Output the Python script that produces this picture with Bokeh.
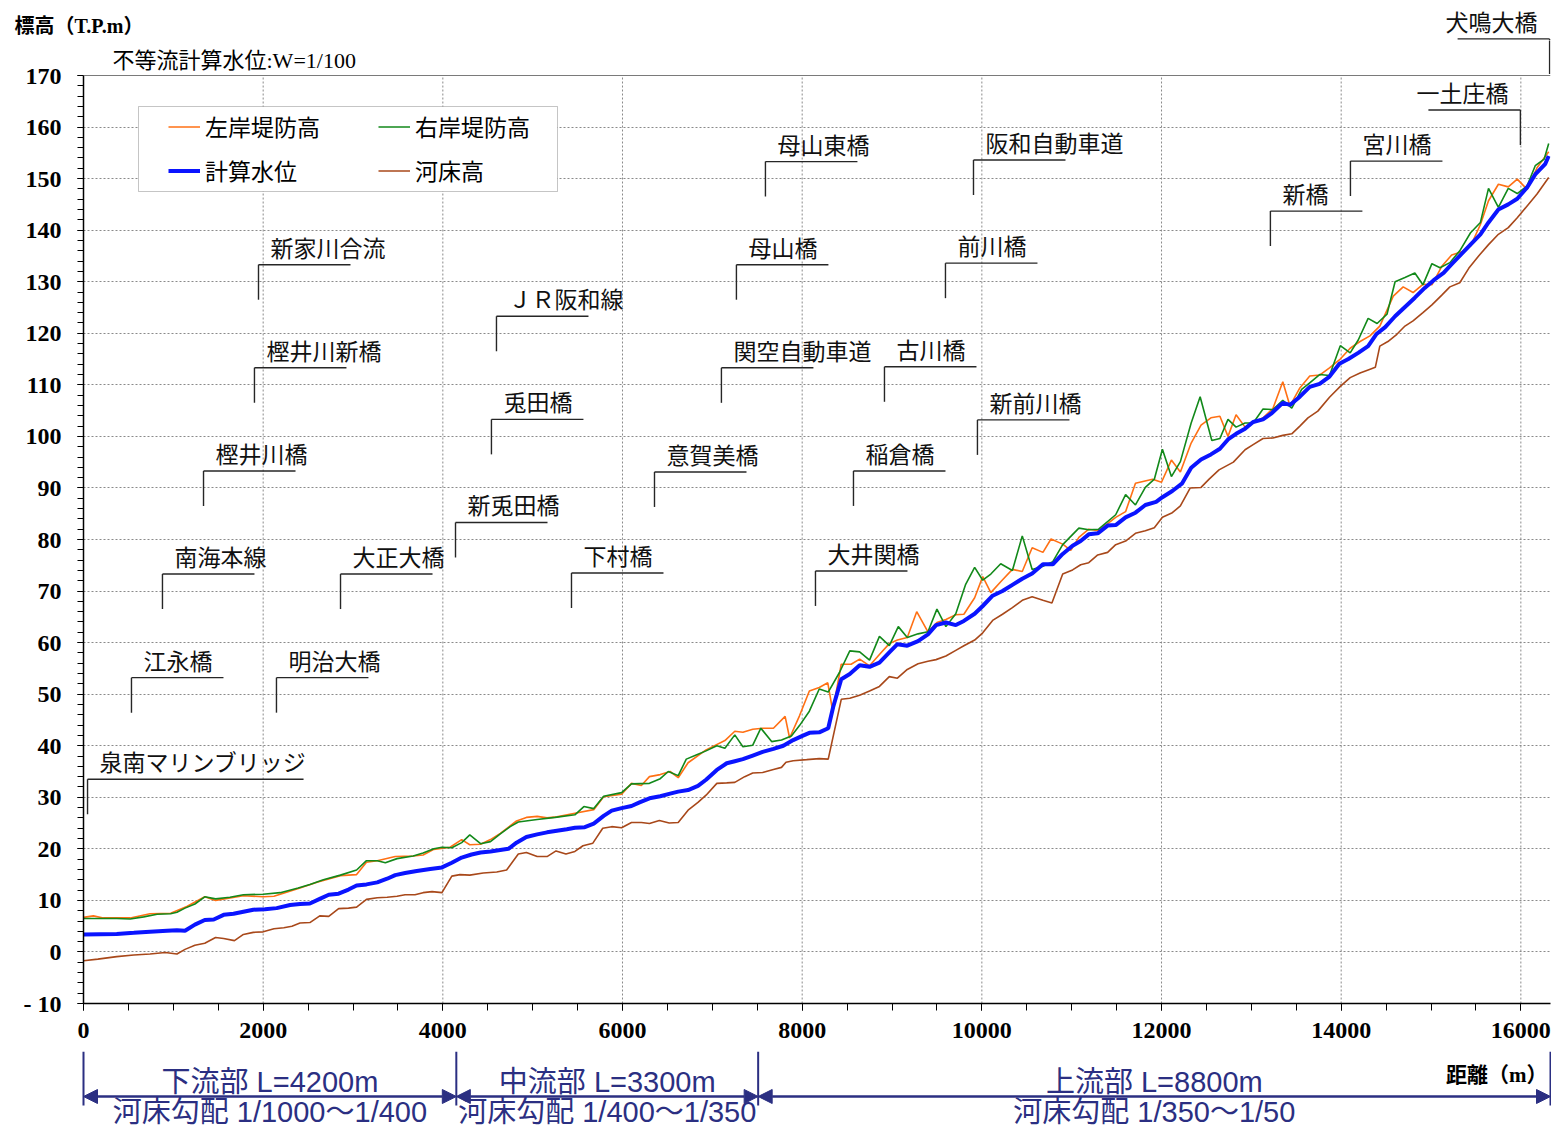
from bokeh.plotting import figure
from bokeh.models import (Range1d, FixedTicker, Legend, LegendItem, BoxAnnotation,
                          Arrow, NormalHead, ColumnDataSource, Span)
from bokeh.layouts import column
from bokeh.core.properties import value
from bokeh.embed import file_html
from bokeh.resources import INLINE

# ------------------------------------------------------------------ data
bed_dist = [0, 160, 370, 560, 740, 910, 1040, 1130, 1240, 1350,
            1470, 1560, 1680, 1780, 1890, 2000, 2120, 2230, 2320, 2410,
            2520, 2630, 2730, 2840, 2950, 3040, 3150, 3270, 3380, 3490,
            3580, 3690, 3780, 3880, 3990, 4100, 4190, 4300, 4450, 4600,
            4710, 4840, 4930, 5050, 5160, 5260, 5370, 5470, 5560, 5670,
            5780, 5880, 5990, 6100, 6210, 6300, 6410, 6520, 6620, 6730,
            6840, 6930, 7050, 7160, 7250, 7360, 7450, 7560, 7680, 7770,
            7820, 7900, 8050, 8190, 8290, 8435, 8530, 8640, 8750, 8860,
            8970, 9060, 9170, 9290, 9400, 9490, 9600, 9710, 9800, 9920,
            10010, 10120, 10230, 10340, 10450, 10560, 10680, 10780, 10900, 11010,
            11100, 11190, 11290, 11400, 11490, 11600, 11710, 11820, 11920, 12010,
            12120, 12210, 12320, 12440, 12530, 12640, 12800, 12930, 13020, 13130,
            13240, 13350, 13450, 13540, 13630, 13740, 13870, 13990, 14100, 14210,
            14300, 14380, 14430, 14520, 14620, 14710, 14800, 14910, 15010, 15120,
            15210, 15320, 15420, 15530, 15640, 15750, 15860, 15960, 16070, 16180,
            16310]
bed_elev = [-1.7, -1.4, -0.9, -0.6, -0.4, -0.1, -0.4, 0.5, 1.3, 1.7,
            2.8, 2.6, 2.2, 3.4, 3.8, 3.9, 4.5, 4.7, 5.0, 5.6,
            5.7, 7.0, 6.9, 8.4, 8.5, 8.7, 10.2, 10.5, 10.6, 10.8,
            11.1, 11.1, 11.5, 11.7, 11.5, 14.7, 15.0, 14.9, 15.3, 15.5,
            15.9, 19.0, 19.3, 18.5, 18.5, 19.6, 19.0, 19.5, 20.6, 21.1,
            24.0, 24.3, 24.1, 25.1, 25.1, 24.9, 25.5, 25.0, 25.1, 27.5,
            29.0, 30.4, 32.7, 32.8, 32.9, 34.0, 34.7, 34.8, 35.4, 35.8,
            36.8, 37.1, 37.3, 37.5, 37.4, 49.0, 49.2, 49.8, 50.6, 51.5,
            53.4, 53.1, 54.8, 55.9, 56.4, 56.7, 57.4, 58.5, 59.4, 60.5,
            61.9, 64.3, 65.5, 66.8, 68.2, 68.9, 68.2, 67.7, 73.3, 74.1,
            75.1, 75.5, 77.0, 77.5, 79.0, 79.7, 81.2, 81.7, 82.3, 84.3,
            85.2, 86.5, 90.0, 90.1, 91.7, 93.5, 95.0, 97.4, 98.4, 99.6,
            99.7, 100.2, 100.5, 102.0, 103.6, 104.9, 107.6, 109.7, 111.4, 112.3,
            112.9, 113.4, 117.5, 118.4, 119.8, 121.4, 122.4, 124.0, 125.5, 127.4,
            129.0, 129.8, 132.6, 135.0, 137.2, 139.2, 140.5, 142.4, 144.7, 147.0,
            150.2]

wl_dist = [0, 370, 560, 740, 930, 1040, 1130, 1240, 1350, 1450,
           1560, 1670, 1780, 1890, 2020, 2150, 2300, 2410, 2520, 2630,
           2730, 2840, 2950, 3040, 3150, 3270, 3380, 3470, 3580, 3710,
           3860, 3990, 4100, 4210, 4320, 4420, 4530, 4730, 4820, 4930,
           5050, 5160, 5270, 5380, 5470, 5580, 5680, 5790, 5880, 5990,
           6100, 6190, 6300, 6420, 6530, 6620, 6730, 6840, 6930, 7050,
           7160, 7250, 7340, 7450, 7560, 7680, 7790, 7900, 7990, 8080,
           8190, 8290, 8345, 8435, 8530, 8640, 8750, 8860, 8970, 9060,
           9170, 9290, 9400, 9490, 9600, 9710, 9800, 9920, 10010, 10120,
           10230, 10340, 10450, 10560, 10680, 10790, 10900, 11010, 11100, 11190,
           11290, 11400, 11490, 11600, 11710, 11820, 11940, 12010, 12120, 12230,
           12330, 12440, 12550, 12650, 12740, 12830, 12930, 13020, 13130, 13220,
           13350, 13430, 13540, 13650, 13760, 13870, 13980, 14080, 14190, 14300,
           14390, 14490, 14600, 14710, 14820, 14930, 15030, 15140, 15230, 15340,
           15450, 15550, 15640, 15750, 15860, 15960, 16070, 16160, 16270, 16310]
wl_elev = [3.4, 3.5, 3.7, 3.9, 4.1, 4.2, 4.1, 5.3, 6.2, 6.3,
           7.2, 7.4, 7.8, 8.2, 8.3, 8.5, 9.1, 9.3, 9.4, 10.3,
           11.1, 11.3, 12.1, 12.9, 13.1, 13.5, 14.2, 14.9, 15.3, 15.7,
           16.1, 16.4, 17.3, 18.3, 18.9, 19.3, 19.5, 20.0, 21.2, 22.3,
           22.8, 23.2, 23.5, 23.8, 24.1, 24.2, 24.9, 26.4, 27.4, 27.9,
           28.3, 29.0, 29.8, 30.2, 30.7, 31.1, 31.4, 32.2, 33.4, 35.3,
           36.6, 37.0, 37.4, 38.1, 38.8, 39.4, 40.0, 41.1, 41.8, 42.5,
           42.6, 43.4, 47.5, 52.9, 53.9, 55.6, 55.3, 56.1, 58.1, 59.7,
           59.4, 60.3, 61.6, 63.4, 63.9, 63.4, 64.2, 65.6, 67.1, 69.1,
           70.0, 71.2, 72.4, 73.4, 75.2, 75.2, 77.2, 78.8, 79.7, 81.0,
           81.2, 82.7, 82.8, 84.3, 85.2, 86.7, 87.3, 88.2, 89.4, 90.9,
           93.9, 95.5, 96.5, 97.6, 99.4, 100.5, 101.5, 102.8, 103.3, 104.4,
           106.5, 106.1, 107.7, 109.6, 110.2, 111.6, 114.1, 115.0, 116.2, 117.5,
           119.8, 121.2, 123.3, 125.1, 126.9, 128.8, 130.3, 131.7, 133.4, 135.4,
           137.4, 139.2, 141.5, 144.0, 145.0, 146.1, 148.3, 150.8, 152.8, 154.4]

right_dist = [0, 190, 370, 520, 670, 820, 970, 1040, 1130, 1240,
              1350, 1470, 1630, 1780, 2000, 2190, 2390, 2520, 2670, 2860,
              3040, 3150, 3270, 3360, 3490, 3670, 3780, 3900, 3990, 4100,
              4210, 4300, 4420, 4530, 4640, 4750, 4840, 5050, 5250, 5470,
              5570, 5680, 5790, 5990, 6100, 6300, 6420, 6510, 6620, 6710,
              6820, 6930, 7050, 7140, 7250, 7340, 7450, 7540, 7660, 7770,
              7880, 7970, 8080, 8190, 8290, 8415, 8530, 8640, 8750, 8860,
              8970, 9070, 9170, 9290, 9400, 9500, 9600, 9710, 9820, 9920,
              10010, 10100, 10210, 10340, 10450, 10560, 10680, 10790, 10900, 11080,
              11190, 11300, 11490, 11600, 11710, 11820, 11920, 12010, 12110, 12210,
              12330, 12430, 12560, 12650, 12740, 12830, 12930, 13020, 13130, 13240,
              13350, 13450, 13560, 13650, 13760, 13870, 13990, 14100, 14190, 14300,
              14400, 14510, 14600, 14710, 14820, 14910, 15010, 15100, 15210, 15320,
              15440, 15550, 15640, 15750, 15860, 15960, 16070, 16160, 16260, 16310]
right_elev = [6.5, 6.5, 6.5, 6.4, 6.8, 7.3, 7.4, 7.7, 8.5, 9.3,
              10.7, 10.3, 10.6, 11.1, 11.2, 11.5, 12.4, 13.1, 14.0, 14.9,
              15.9, 17.7, 17.7, 17.3, 18.1, 18.6, 19.2, 20.0, 20.3, 20.2,
              21.2, 22.7, 21.0, 21.4, 22.9, 24.3, 25.2, 25.7, 26.1, 26.6,
              28.2, 27.8, 30.2, 30.9, 32.6, 32.7, 33.6, 35.0, 34.2, 37.4,
              38.2, 39.0, 40.0, 39.5, 42.1, 39.8, 40.1, 43.4, 40.8, 41.1,
              41.9, 43.9, 46.7, 51.0, 50.4, 54.2, 58.4, 58.2, 56.6, 61.2,
              59.4, 63.1, 61.0, 61.7, 62.1, 66.5, 63.1, 65.6, 71.3, 74.6,
              72.1, 73.3, 75.3, 74.0, 80.7, 74.2, 74.8, 75.7, 79.0, 82.2,
              81.9, 82.0, 84.8, 88.7, 86.7, 90.1, 91.7, 97.5, 92.2, 95.1,
              102.6, 107.7, 99.2, 99.6, 103.3, 101.8, 102.6, 102.6, 105.3, 105.2,
              107.0, 105.5, 109.1, 110.4, 112.0, 111.8, 117.6, 116.2, 118.7, 122.9,
              121.9, 123.7, 130.0, 130.8, 131.7, 129.4, 133.5, 132.7, 133.7, 136.0,
              139.5, 141.5, 148.1, 144.4, 148.1, 147.1, 148.6, 152.5, 153.8, 156.8]

left_dist = [0, 110, 220, 370, 520, 740, 970, 1150, 1350, 1470,
             1780, 2000, 2120, 2410, 2600, 2860, 3040, 3150, 3270, 3470,
             3670, 3780, 3900, 4080, 4210, 4300, 4420, 4530, 4640, 4820,
             4930, 5050, 5160, 5270, 5470, 5680, 5790, 5990, 6100, 6210,
             6300, 6420, 6530, 6620, 6730, 6930, 7140, 7250, 7340, 7450,
             7560, 7680, 7810, 7860, 7970, 8080, 8190, 8285, 8340, 8435,
             8545, 8640, 8750, 8860, 8970, 9060, 9170, 9275, 9400, 9500,
             9600, 9710, 9800, 9920, 10010, 10100, 10210, 10340, 10450, 10560,
             10680, 10770, 10900, 10990, 11080, 11190, 11300, 11490, 11600, 11710,
             11900, 12000, 12110, 12210, 12330, 12440, 12550, 12650, 12740, 12830,
             12930, 13020, 13130, 13240, 13350, 13430, 13540, 13650, 13760, 13870,
             13990, 14100, 14210, 14320, 14430, 14580, 14690, 14800, 14910, 15010,
             15120, 15230, 15340, 15440, 15550, 15640, 15750, 15860, 15960, 16070,
             16180, 16310]
left_elev = [6.7, 7.0, 6.6, 6.6, 6.6, 7.4, 7.5, 8.8, 10.7, 10.0,
             10.9, 10.7, 10.8, 12.4, 13.5, 14.8, 15.0, 17.4, 17.7, 18.5,
             18.6, 18.8, 19.9, 20.3, 21.8, 20.8, 20.9, 21.8, 23.0, 25.4,
             26.1, 26.3, 26.0, 26.2, 26.9, 27.6, 30.1, 30.6, 32.7, 32.3,
             34.0, 34.4, 35.0, 33.8, 36.7, 39.2, 41.0, 42.8, 42.6, 43.2,
             43.4, 43.4, 45.7, 41.5, 45.8, 50.6, 51.3, 52.2, 46.7, 55.8,
             55.8, 56.8, 55.5, 57.7, 59.8, 60.5, 61.0, 66.0, 62.1, 63.9,
             64.5, 65.4, 65.5, 68.7, 72.8, 69.7, 71.8, 74.2, 73.8, 78.4,
             77.5, 80.1, 79.1, 77.9, 80.4, 82.0, 81.7, 84.3, 85.4, 90.9,
             91.7, 91.1, 95.4, 93.1, 98.7, 102.2, 103.6, 103.9, 100.0, 104.2,
             101.8, 102.6, 103.6, 105.4, 110.6, 105.9, 109.4, 111.7, 111.9, 113.3,
             115.0, 117.1, 118.4, 119.5, 121.4, 127.2, 129.0, 127.9, 129.5, 129.4,
             133.0, 135.2, 135.8, 136.9, 141.1, 145.7, 148.9, 148.4, 149.9, 147.9,
             152.1, 155.2]

x_ticks = [0, 2000, 4000, 6000, 8000, 10000, 12000, 14000, 16000]
y_ticks = [-10, 0, 10, 20, 30, 40, 50, 60, 70, 80, 90, 100, 110, 120, 130, 140, 150, 160, 170]
y_tick_text = {-10: "- 10"}

series_names = ["左岸堤防高", "右岸堤防高", "計算水位", "河床高"]

bridge_names = ["泉南マリンブリッジ", "江永橋", "明治大橋", "南海本線", "大正大橋", "新兎田橋",
                "下村橋", "樫井川橋", "兎田橋", "樫井川新橋", "ＪＲ阪和線", "新家川合流",
                "意賀美橋", "関空自動車道", "母山橋", "母山東橋", "大井関橋", "稲倉橋",
                "古川橋", "新前川橋", "前川橋", "阪和自動車道", "新橋", "宮川橋",
                "一土庄橋", "犬鳴大橋"]
bridge_dist = [45, 534, 2148, 879, 2861, 4141, 5432, 1336, 4541, 1903, 4597, 1948,
               6356, 7101, 7268, 7591, 8148, 8571, 8916, 9951, 9595, 9907, 13212, 14103,
               15995, 16320]
bridge_level = [33.5, 53.2, 53.2, 73.3, 73.3, 83.3, 73.5, 93.3, 103.3, 113.3, 123.3, 133.3,
                93.1, 113.3, 133.3, 153.3, 73.9, 93.3, 113.5, 103.2, 133.6, 153.6, 143.7, 153.4,
                163.3, 177.1]
bridge_side = ["L"] * 24 + ["R", "R"]

section_bounds = [0, 4150, 7510, 16330]
section_title = ["下流部 L=4200m", "中流部 L=3300m", "上流部 L=8800m"]
section_slope = ["河床勾配 1/1000～1/400", "河床勾配 1/400～1/350", "河床勾配 1/350～1/50"]

# ------------------------------------------------------------------ layout (screen px)
W, H = 1551, 1129
FRAME_L = 83          # left edge of the plotting area
FRAME_W = 1467
AXIS_TOP = 75         # screen y of elevation 170
AXIS_BOT = 1003       # screen y of elevation -10
X_MAX = 16330
Y_MIN, Y_MAX = -10, 170
TOP_H = 40            # strip holding texts left of / above the frame
MAIN_B = 48
BOT_Y0 = AXIS_BOT + MAIN_B
BOT_H = H - BOT_Y0

sx = FRAME_W / X_MAX
sy = (AXIS_BOT - AXIS_TOP) / (Y_MAX - Y_MIN)


def pxm(px):
    return px / sx


def pxe(px):
    return px / sy


SERIF_JP = "'Liberation Serif', 'Noto Sans CJK JP'"
SANS_JP = "'Liberation Sans', 'Noto Sans CJK JP'"
NAVY = "#2b2f82"
LEAD = "#262626"
GRID = "#8a8a8a"

C_LEFT, C_RIGHT, C_WL, C_BED = "#ff7014", "#12891a", "#0a14ff", "#a8481a"

# ------------------------------------------------------------------ main figure
xr = Range1d(0, X_MAX)
y_top_main = Y_MAX + pxe(AXIS_TOP - TOP_H)
p = figure(width=W, height=BOT_Y0 - TOP_H, x_range=xr,
           y_range=Range1d(Y_MIN, y_top_main), output_backend="svg", toolbar_location=None,
           title=None, min_border_left=FRAME_L, min_border_right=W - FRAME_L - FRAME_W,
           min_border_top=0, min_border_bottom=MAIN_B, background_fill_color="white")
p.outline_line_color = None

p.xaxis.ticker = FixedTicker(ticks=x_ticks, minor_ticks=list(range(0, X_MAX + 1, 500)))
p.yaxis.ticker = FixedTicker(ticks=y_ticks, minor_ticks=list(range(Y_MIN, Y_MAX + 1, 2)))
p.yaxis.bounds = (Y_MIN, Y_MAX)
p.yaxis.major_label_overrides = y_tick_text
for ax in (p.xaxis[0], p.yaxis[0]):
    ax.axis_line_color = "black"
    ax.axis_line_width = 1.5
    ax.major_tick_line_color = "black"
    ax.minor_tick_line_color = "black"
    ax.major_tick_in = 0
    ax.minor_tick_in = 0
    ax.major_label_text_font = "Liberation Serif"
    ax.major_label_text_font_style = "bold"
    ax.major_label_text_font_size = "24px"
    ax.major_label_text_color = "black"
p.xaxis.major_tick_out = 7
p.xaxis.minor_tick_out = 7
p.yaxis.major_tick_out = 6
p.yaxis.minor_tick_out = 6
p.xaxis.major_label_standoff = 12
p.yaxis.major_label_standoff = 16

# grid: horizontal lines from the library grid, vertical lines stop at the top of the axis
p.xgrid.visible = False
p.ygrid.ticker = FixedTicker(ticks=y_ticks)
p.ygrid.grid_line_color = GRID
p.ygrid.grid_line_dash = "2 2"
p.ygrid.grid_line_width = 1
p.segment(x0=x_ticks, y0=[Y_MIN] * len(x_ticks), x1=x_ticks, y1=[Y_MAX] * len(x_ticks),
          line_color=GRID, line_dash="2 2", line_width=1)
p.add_layout(Span(location=Y_MAX, dimension="width", line_color="#7a7a7a", line_width=1))

r_left = p.line(left_dist, left_elev, line_color=C_LEFT, line_width=1.6)
r_right = p.line(right_dist, right_elev, line_color=C_RIGHT, line_width=1.6)
r_bed = p.line(bed_dist, bed_elev, line_color=C_BED, line_width=1.6)
r_wl = p.line(wl_dist, wl_elev, line_color=C_WL, line_width=4)

# legend box + two legend columns
box = BoxAnnotation(left=pxm(138 - FRAME_L), right=pxm(557 - FRAME_L),
                    top=Y_MAX - pxe(106 - AXIS_TOP), bottom=Y_MAX - pxe(191 - AXIS_TOP),
                    fill_color="white", fill_alpha=1, line_color="#404040", line_width=1)
p.add_layout(box)
leg_common = dict(orientation="vertical", border_line_color=None, background_fill_alpha=0,
                  padding=0, margin=0, spacing=10, glyph_width=32, glyph_height=33,
                  label_height=33, label_standoff=5, label_text_font="Noto Sans CJK JP",
                  label_text_font_size="23px", label_text_color="black")
leg_bottom = AXIS_BOT - 187
leg1 = Legend(items=[LegendItem(label=series_names[0], renderers=[r_left]),
                     LegendItem(label=series_names[2], renderers=[r_wl])],
              location=(168 - FRAME_L, leg_bottom), **leg_common)
leg2 = Legend(items=[LegendItem(label=series_names[1], renderers=[r_right]),
                     LegendItem(label=series_names[3], renderers=[r_bed])],
              location=(378 - FRAME_L, leg_bottom), **leg_common)
p.add_layout(leg1)
p.add_layout(leg2)

# ------------------------------------------------------------------ top / bottom strips
xr_full = Range1d(-FRAME_L / sx, (W - FRAME_L) / sx)
top = figure(width=W, height=TOP_H, x_range=xr_full,
             y_range=Range1d(y_top_main, Y_MAX + pxe(AXIS_TOP)),
             output_backend="svg", toolbar_location=None, title=None, min_border=0,
             x_axis_type=None, y_axis_type=None, frame_align=False)
top.outline_line_color = None
top.grid.visible = False

bot = figure(width=W, height=BOT_H, x_range=xr_full, y_range=Range1d(BOT_H, 0),
             output_backend="svg", toolbar_location=None, title=None, min_border=0,
             x_axis_type=None, y_axis_type=None, frame_align=False)
bot.outline_line_color = None
bot.grid.visible = False

# ------------------------------------------------------------------ bridge leaders
LINE_PX, LONG_PX, DROP_PX, GAP_PX, RISE_PX = 92, 216, 35, 12, 18
x0s, x1s, lvs, lbs, txs, tys, tts, als = [], [], [], [], [], [], [], []
for i, name in enumerate(bridge_names):
    d, lv, side = bridge_dist[i], bridge_level[i], bridge_side[i]
    length = pxm(LONG_PX if i == 0 else LINE_PX)
    sign = 1 if side == "L" else -1
    x0s.append(d); x1s.append(d + sign * length); lvs.append(lv)
    lbs.append(lv - pxe(DROP_PX))
    txs.append(d + sign * pxm(GAP_PX)); tys.append(lv + pxe(RISE_PX)); tts.append(name)
    als.append("left" if side == "L" else "right")

for fig in (p, top):
    fig.segment(x0=x0s, y0=lvs, x1=x1s, y1=lvs, line_color=LEAD, line_width=1.4)
    fig.segment(x0=x0s, y0=lvs, x1=x0s, y1=lbs, line_color=LEAD, line_width=1.4)

in_main = [i for i in range(len(tts)) if tys[i] < y_top_main - pxe(14)]
in_top = [i for i in range(len(tts)) if i not in in_main]
for fig, idx in ((p, in_main), (top, in_top)):
    src = ColumnDataSource(dict(x=[txs[i] for i in idx], y=[tys[i] for i in idx],
                                t=[tts[i] for i in idx], a=[als[i] for i in idx]))
    fig.text(x="x", y="y", text="t", text_align="a", source=src, text_baseline="middle",
             text_font=value("Noto Sans CJK JP"), text_font_size="23px", text_color="#111111")

# titles
top.text(x=[pxm(14 - FRAME_L)], y=[Y_MAX + pxe(AXIS_TOP - 25)], text=["標高（T.P.m）"],
         text_font=value(SERIF_JP), text_font_style="bold", text_font_size="20px",
         text_align="left", text_baseline="middle", text_color="black")
p.text(x=[pxm(112 - FRAME_L)], y=[Y_MAX + pxe(AXIS_TOP - 60)], text=["不等流計算水位:W=1/100"],
       text_font=value(SERIF_JP), text_font_size="22px",
       text_align="left", text_baseline="middle", text_color="black")

# ------------------------------------------------------------------ bottom sections
bot.text(x=[pxm(1547 - FRAME_L)], y=[1074 - BOT_Y0], text=["距離（m）"], text_font=value(SERIF_JP),
         text_font_style="bold", text_font_size="21px", text_align="right",
         text_baseline="middle", text_color="black")
bot.segment(x0=section_bounds, y0=[0] * len(section_bounds), x1=section_bounds,
            y1=[1105 - BOT_Y0] * len(section_bounds), line_color=NAVY, line_width=2)
mids = [(section_bounds[i] + section_bounds[i + 1]) / 2 for i in range(len(section_title))]
bot.text(x=mids, y=[1081 - BOT_Y0] * len(mids), text=section_title, text_font=value(SANS_JP),
         text_font_size="29px", text_align="center", text_baseline="middle", text_color=NAVY)
bot.text(x=mids, y=[1111 - BOT_Y0] * len(mids), text=section_slope, text_font=value(SANS_JP),
         text_font_size="29px", text_align="center", text_baseline="middle", text_color=NAVY)
for i in range(len(section_title)):
    bot.add_layout(Arrow(x_start=section_bounds[i], x_end=section_bounds[i + 1],
                         y_start=1096 - BOT_Y0, y_end=1096 - BOT_Y0, line_color=NAVY, line_width=2.5,
                         start=NormalHead(size=14, fill_color=NAVY, line_color=NAVY),
                         end=NormalHead(size=14, fill_color=NAVY, line_color=NAVY)))

layout = column(top, p, bot, spacing=0)
open("out.html", "w").write(file_html(layout, INLINE))
